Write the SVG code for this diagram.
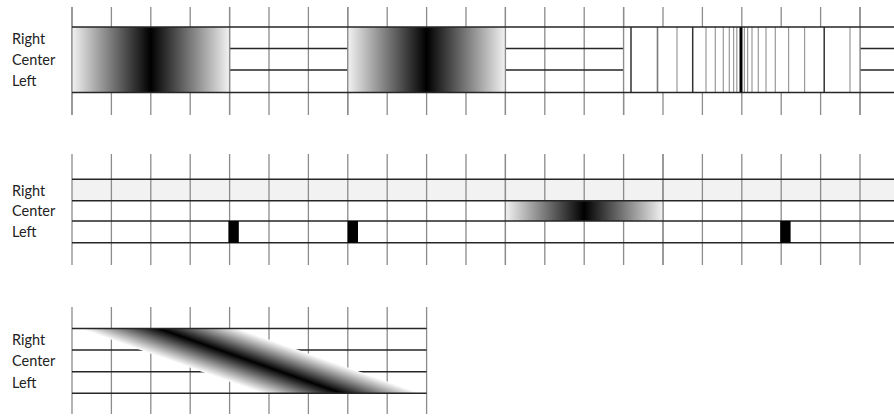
<svg xmlns="http://www.w3.org/2000/svg" width="894" height="416" viewBox="0 0 894 416">
  <defs>
    <linearGradient id="gBand" x1="0" y1="0" x2="1" y2="0">
      <stop offset="0" stop-color="#f2f2f2"/>
      <stop offset="0.5" stop-color="#000"/>
      <stop offset="1" stop-color="#f2f2f2"/>
    </linearGradient>
    <linearGradient id="gSkew" x1="0" y1="0" x2="1" y2="0">
      <stop offset="0" stop-color="#ffffff"/>
      <stop offset="0.5" stop-color="#000"/>
      <stop offset="1" stop-color="#ffffff"/>
    </linearGradient>
  </defs>
  <style>
    .t { stroke: #8c8c8c; stroke-width: 1.3; fill: none; }
    .h { stroke: #262626; stroke-width: 1.4; fill: none; }
    .pg { stroke: #9a9a9a; stroke-width: 1.2; }
    .pd { stroke: #333; stroke-width: 1.5; }
    .lbl { font-family: Lato, "Liberation Sans", sans-serif; font-size: 14.5px; fill: #222; }
  </style>
  <rect width="894" height="416" fill="#fff"/>

  <!-- Row 1 -->
  <g id="row1">
    <g id="row1-ticks" class="t">
      <path d="M72 7V115M111.4 7V115M150.8 7V115M190.2 7V115M229.6 7V115M269 7V115M308.4 7V115M347.8 7V115M387.2 7V115M426.6 7V115M466 7V115M505.4 7V115M544.8 7V115M584.2 7V115M623.6 7V115M663 7V115M702.4 7V115M741.8 7V115M781.2 7V115M820.6 7V115M860 7V115"/>
    </g>
    <path class="h" d="M72 48.5H894M72 70H894"/>
    <rect x="72" y="27" width="157.6" height="65.5" fill="url(#gBand)"/>
    <rect x="347.8" y="27" width="157.6" height="65.5" fill="url(#gBand)"/>
    <rect x="623.6" y="27" width="236.4" height="65.5" fill="#fff"/>
    <g id="row1-pattern">
      <path class="pd" d="M631 27V92.5M692.7 27V92.5M824.2 27V92.5"/>
      <path stroke="#7a7a7a" stroke-width="1.6" d="M657.5 27V92.5"/>
      <path class="pg" d="M677 27V92.5M706 27V92.5M715.3 27V92.5M723.3 27V92.5M729.3 27V92.5M733.6 27V92.5M736.8 27V92.5M744.4 27V92.5M747.6 27V92.5M752 27V92.5M758.3 27V92.5M766 27V92.5M775.3 27V92.5M788.6 27V92.5M804.6 27V92.5M850 27V92.5"/>
      <path stroke="#000" stroke-width="3" d="M741 27V92.5"/>
    </g>
    <path class="t" d="M72 7V115M229.6 7V115M347.8 7V115M505.4 7V115M623.6 7V115M860 7V115"/>
    <path class="h" d="M72 27H894M72 92.5H894"/>
    <text class="lbl" x="12" y="43.5">Right</text>
    <text class="lbl" x="12" y="64.8">Center</text>
    <text class="lbl" x="12" y="86">Left</text>
  </g>

  <!-- Row 2 -->
  <g id="row2">
    <rect x="72" y="179.3" width="822" height="21.4" fill="#f2f2f2"/>
    <path class="t" d="M72 154V265M111.4 154V265M150.8 154V265M190.2 154V265M229.6 154V265M269 154V265M308.4 154V265M347.8 154V265M387.2 154V265M426.6 154V265M466 154V265M505.4 154V265M544.8 154V265M584.2 154V265M623.6 154V265M663 154V265M702.4 154V265M741.8 154V265M781.2 154V265M820.6 154V265M860 154V265"/>
    <rect x="505.4" y="200.7" width="157.6" height="20.3" fill="url(#gBand)"/>
    <path class="t" d="M505.4 154V265M663 154V265"/>
    <path class="h" d="M72 179.3H894M72 200.7H894M72 221H894M72 242.7H894"/>
    <rect x="228.4" y="221" width="10.4" height="21.7" fill="#000"/>
    <rect x="347.6" y="221" width="10.4" height="21.7" fill="#000"/>
    <rect x="780.2" y="221" width="10.4" height="21.7" fill="#000"/>
    <text class="lbl" x="12" y="195.7">Right</text>
    <text class="lbl" x="12" y="216">Center</text>
    <text class="lbl" x="12" y="237">Left</text>
  </g>

  <!-- Row 3 -->
  <g id="row3">
    <path class="t" d="M72 307V414M111.4 307V414M150.8 307V414M190.2 307V414M229.6 307V414M269 307V414M308.4 307V414M347.8 307V414M387.2 307V414M426.6 307V414"/>
    <path class="h" d="M72 350H426.6M72 371.7H426.6"/>
    <rect x="0" y="0" width="157.6" height="64.8" fill="url(#gSkew)" transform="matrix(1 0 2.82 1 80 328.5)"/>
    <path class="h" d="M72 328.5H426.6M72 393.3H426.6"/>
    <text class="lbl" x="12" y="345">Right</text>
    <text class="lbl" x="12" y="366.3">Center</text>
    <text class="lbl" x="12" y="387.5">Left</text>
  </g>
</svg>
